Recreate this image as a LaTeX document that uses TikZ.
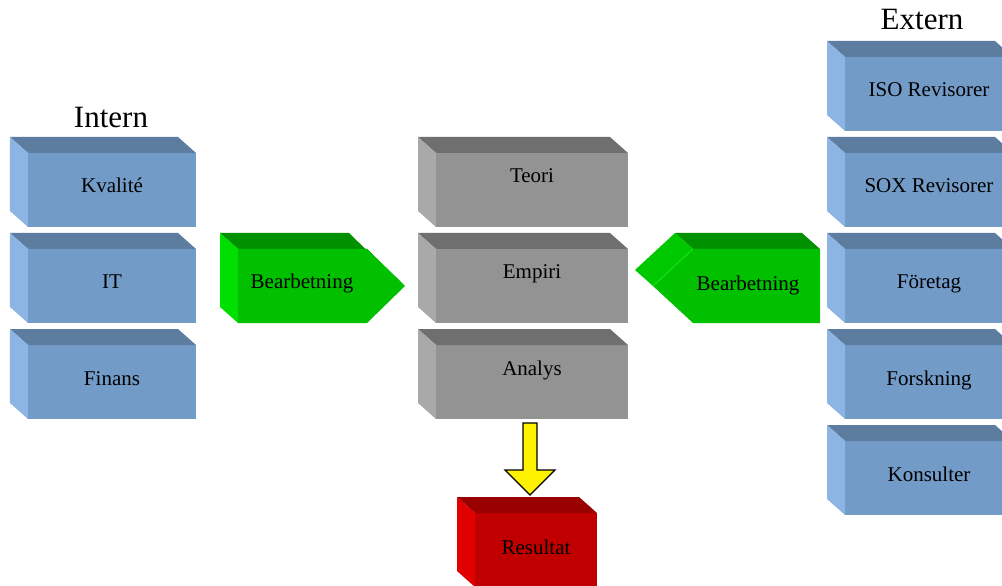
\documentclass[tikz,border=0pt]{standalone}
\usepackage{fontspec}
\setmainfont{Liberation Serif}
\usetikzlibrary{calc}
\definecolor{bfront}{RGB}{115,155,200}
\definecolor{btop}{RGB}{92,124,160}
\definecolor{bside}{RGB}{140,181,227}
\definecolor{gfront}{RGB}{147,147,147}
\definecolor{gtop}{RGB}{111,111,111}
\definecolor{gside}{RGB}{169,169,169}
\definecolor{grfront}{RGB}{0,192,0}
\definecolor{grtop}{RGB}{0,144,0}
\definecolor{grside}{RGB}{0,224,0}
\definecolor{grslant}{RGB}{0,200,0}
\definecolor{grline}{RGB}{20,225,20}
\definecolor{rfront}{RGB}{192,0,0}
\definecolor{rtop}{RGB}{153,0,0}
\definecolor{rside}{RGB}{224,0,0}
\tikzset{
  every node/.style={font=\fontsize{21bp}{25bp}\selectfont, inner sep=0pt, outer sep=0pt},
  face/.style={minimum height=74bp},
  bluebox/.style={face, fill=bfront, minimum width=168bp, text height=40bp, text depth=34bp},
  graybox/.style={face, fill=gfront, minimum width=192bp, text height=30bp, text depth=44bp},
  redbox/.style={face, fill=rfront, minimum width=122bp, text height=41bp, text depth=33bp},
  heading/.style={font=\fontsize{31bp}{36bp}\selectfont, anchor=base},
  arrowtext/.style={anchor=base},
}
\newcommand\cubefaces[3]{%
  \fill[#2] (#1.north west) -- ++(-18,-16) -- ($(#1.north east)+(-18,-16)$) -- (#1.north east) -- cycle;
  \fill[#3] (#1.north west) -- ++(-18,-16) -- ($(#1.south west)+(-18,-16)$) -- (#1.south west) -- cycle;}
\begin{document}
\begin{tikzpicture}[x=1bp, y=-1bp]
\useasboundingbox (0,0) rectangle (1002,586);
% headings
\node[heading] (intern) at (111,128) {Intern};
\node[heading] (extern) at (922,30) {Extern};
% left blue column
\node[bluebox] (kval) at (112,190) {Kvalité};
\node[bluebox] (it) at (112,286) {IT};
\node[bluebox] (finans) at (112,382) {Finans};
\cubefaces{kval}{btop}{bside}
\cubefaces{it}{btop}{bside}
\cubefaces{finans}{btop}{bside}
% right blue column
\node[bluebox] (iso) at (929,94) {ISO Revisorer};
\node[bluebox] (sox) at (929,190) {SOX Revisorer};
\node[bluebox] (foretag) at (929,286) {Företag};
\node[bluebox] (forsk) at (929,382) {Forskning};
\node[bluebox] (kons) at (929,478) {Konsulter};
\cubefaces{iso}{btop}{bside}
\cubefaces{sox}{btop}{bside}
\cubefaces{foretag}{btop}{bside}
\cubefaces{forsk}{btop}{bside}
\cubefaces{kons}{btop}{bside}
% gray column
\node[graybox] (teori) at (532,190) {Teori};
\node[graybox] (empiri) at (532,286) {Empiri};
\node[graybox] (analys) at (532,382) {Analys};
\cubefaces{teori}{gtop}{gside}
\cubefaces{empiri}{gtop}{gside}
\cubefaces{analys}{gtop}{gside}
% result
\node[redbox] (res) at (536,550) {Resultat};
\cubefaces{res}{rtop}{rside}
% left green arrow
\fill[grtop] (220,233) -- (349,233) -- (387,270) -- (405,286) -- (367,249) -- (238,249) -- cycle;
\fill[grside] (220,233) -- (238,249) -- (238,323) -- (220,307) -- cycle;
\fill[grfront] (238,249) -- (367,249) -- (405,286) -- (367,323) -- (238,323) -- cycle;
\node[arrowtext] (bearL) at (302,289) {Bearbetning};
% right green arrow
\fill[grtop] (675,233) -- (802,233) -- (820,249) -- (693,249) -- cycle;
\fill[grslant] (635,270) -- (675,233) -- (693,249) -- (653,286) -- cycle;
\fill[grfront] (693,249) -- (820,249) -- (820,323) -- (693,323) -- (653,286) -- cycle;
\draw[grline, line width=1bp] (653,286) -- (693,249);
\node[arrowtext] (bearR) at (748,291) {Bearbetning};
% yellow block arrow from Analys to Resultat
\coordinate (ya) at ($(analys.south)+(-2,4)$);
\coordinate (yb) at ($(res.north)+(-6,-18)$);
\draw[fill=yellow, line width=1.2bp, line join=miter]
  ($(ya)+(-7,0)$) -- ($(ya)+(7,0)$) -- ($(yb)+(7,-25)$) -- ($(yb)+(25,-25)$) -- (yb)
  -- ($(yb)+(-25,-25)$) -- ($(yb)+(-7,-25)$) -- cycle;
\end{tikzpicture}
\end{document}
